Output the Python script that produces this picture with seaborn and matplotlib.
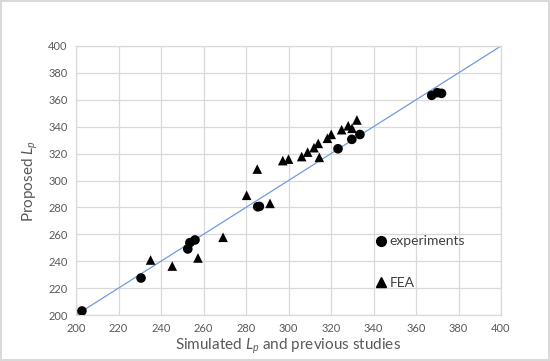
import matplotlib
matplotlib.use("Agg")
import matplotlib.pyplot as plt
import seaborn as sns
import pandas as pd

# Data
exp_x = [202.8, 230.6, 252.6, 253.6, 256.0, 285.5, 286.3, 323.3, 329.8, 333.6, 367.4, 370.0, 372.0]
exp_y = [203.0, 227.5, 249.1, 253.8, 255.8, 280.5, 280.7, 323.6, 330.6, 334.2, 363.3, 365.3, 364.8]
fea_x = [235.1, 245.3, 257.4, 269.2, 280.3, 285.3, 291.3, 297.3, 300.0, 306.2, 309.0, 312.0,
         314.0, 314.5, 318.3, 320.1, 325.0, 328.1, 329.9, 332.2]
fea_y = [240.9, 236.4, 242.4, 257.8, 289.0, 308.5, 283.0, 314.8, 315.9, 317.8, 321.1, 324.4,
         327.6, 317.2, 331.4, 334.3, 337.8, 340.7, 338.8, 345.0]
series_names = ["experiments", "FEA"]
ref_line = [200, 400]
x_ticks = list(range(200, 401, 20))
y_ticks = list(range(200, 401, 20))

sns.set_theme(style="white")
plt.rcParams["font.family"] = ["Lato", "DejaVu Sans"]
plt.rcParams["mathtext.fontset"] = "custom"
plt.rcParams["mathtext.rm"] = "Lato"
plt.rcParams["mathtext.it"] = "Lato:italic"

df = pd.concat([
    pd.DataFrame({"x": exp_x, "y": exp_y, "series": series_names[0]}),
    pd.DataFrame({"x": fea_x, "y": fea_y, "series": series_names[1]}),
])

fig = plt.figure(figsize=(5.5, 3.61), dpi=100)
fig.patch.set_edgecolor("#d9d9d9")
fig.patch.set_linewidth(1.5)
ax = fig.add_axes([76 / 550, 1 - 315 / 361, 425 / 550, 269 / 361])

grid_c = "#d9d9d9"
ax.plot(ref_line, ref_line, color="#6f9be0", lw=0.9, zorder=2)
sns.scatterplot(data=df, x="x", y="y", style="series",
                markers={"experiments": "o", "FEA": "^"},
                color="black", s=48, edgecolor="black", linewidth=0,
                ax=ax, zorder=3, legend=False)

ax.set_xlim(200, 400)
ax.set_ylim(200, 400)
ax.set_xticks(x_ticks)
ax.set_yticks(y_ticks)
ax.grid(True, color=grid_c, lw=0.9)
ax.set_axisbelow(True)
for sp in ax.spines.values():
    sp.set_color(grid_c)
    sp.set_linewidth(0.9)
ax.tick_params(axis="both", length=0, labelsize=8, colors="#595959", pad=6)

ax.set_xlabel("Simulated $L_p$ and previous studies", fontsize=11, color="#595959", labelpad=2)
ax.set_ylabel("Proposed $L_p$", fontsize=11, color="#595959", labelpad=6)

from matplotlib.lines import Line2D
handles = [
    Line2D([], [], marker="o", ls="", color="black", markersize=7),
    Line2D([], [], marker="^", ls="", color="black", markersize=7),
]
ax.legend(handles, series_names, loc="center left", bbox_to_anchor=(0.672, 0.197),
          frameon=False, fontsize=10, labelspacing=2.1, handletextpad=0.1,
          handlelength=1.0, labelcolor="#404040")

fig.savefig("out.png", dpi=100)
